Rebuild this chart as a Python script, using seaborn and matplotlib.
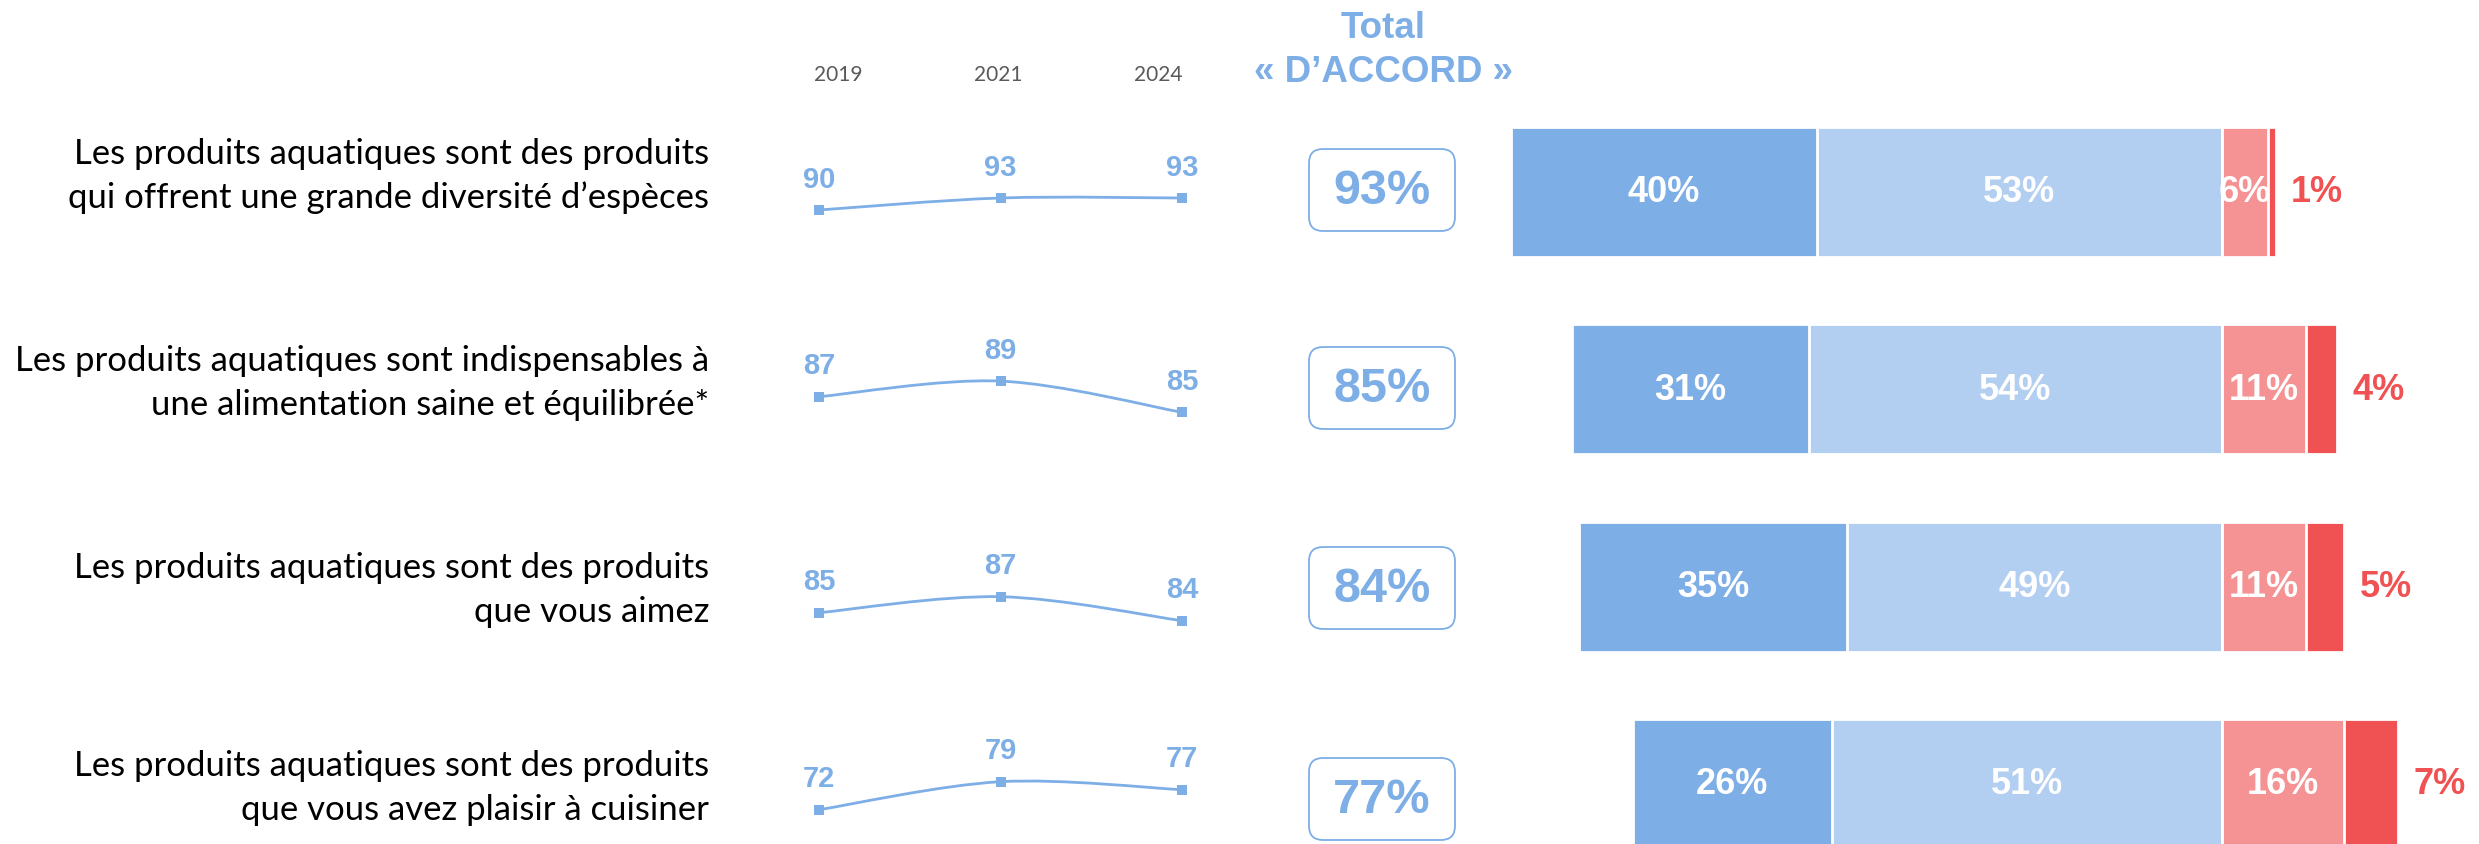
import matplotlib
matplotlib.use("Agg")
import matplotlib.pyplot as plt
import seaborn as sns
import pandas as pd
from matplotlib.patches import FancyBboxPatch, PathPatch
from matplotlib.path import Path

# ---------------- data ----------------
items = [
    "Les produits aquatiques sont des produits\nqui offrent une grande diversité d’espèces",
    "Les produits aquatiques sont indispensables à\nune alimentation saine et équilibrée*",
    "Les produits aquatiques sont des produits\nque vous aimez",
    "Les produits aquatiques sont des produits\nque vous avez plaisir à cuisiner",
]
years = ["2019", "2021", "2024"]
trend_2019 = [90, 87, 85, 72]
trend_2021 = [93, 89, 87, 79]
trend_2024 = [93, 85, 84, 77]
total_accord = [93, 85, 84, 77]
tout_a_fait = [40, 31, 35, 26]
plutot_oui = [53, 54, 49, 51]
plutot_non = [6, 11, 11, 16]
pas_du_tout = [1, 4, 5, 7]
header_lines = ["Total", "« D’ACCORD »"]

# ---------------- style ----------------
C_DARK_BLUE = "#7DAEE6"
C_LIGHT_BLUE = "#B2CEF1"
C_LIGHT_RED = "#F59293"
C_RED = "#F05152"
C_TEXT_BLUE = "#7DAEE6"
C_GREY = "#595959"

W, H, DPI = 2479, 845, 100
sns.set_theme(style="white")
plt.rcParams["font.family"] = ["Liberation Sans", "DejaVu Sans"]

fig = plt.figure(figsize=(W / DPI, H / DPI), dpi=DPI)
fig.patch.set_facecolor("white")


def px_axes(x0, y0, x1, y1):
    return fig.add_axes([x0 / W, 1 - y1 / H, (x1 - x0) / W, (y1 - y0) / H])


# overlay axes in pixel coordinates (for texts and boxes)
ax_o = px_axes(0, 0, W, H)
ax_o.set_xlim(0, W)
ax_o.set_ylim(H, 0)
ax_o.axis("off")

# ---------------- diverging stacked bars ----------------
df = pd.DataFrame({
    "item": items,
    "tout": tout_a_fait,
    "oui": plutot_oui,
    "non": plutot_non,
    "pas": pas_du_tout,
})
df["agree_all"] = -(df["tout"] + df["oui"])
df["agree_oui"] = -df["oui"]
df["dis_all"] = df["non"] + df["pas"]
df["dis_non"] = df["non"]

row0, row_step = 193, 197.3
center_px, px_per_pct = 2222, 7.65
bx0, bx1 = 1440, W
ax_b = px_axes(bx0, 0, bx1, H)
bar_w = 130 / row_step
for col, colr in [("agree_all", C_DARK_BLUE), ("agree_oui", C_LIGHT_BLUE),
                  ("dis_all", C_RED), ("dis_non", C_LIGHT_RED)]:
    sns.barplot(data=df, x=col, y="item", order=items, orient="h", color=colr,
                saturation=1, width=bar_w, edgecolor="white", linewidth=2,
                errorbar=None, ax=ax_b)
ax_b.set_xlim(-(center_px - bx0) / px_per_pct, (bx1 - center_px) / px_per_pct)
ax_b.set_ylim((H - row0) / row_step, -row0 / row_step)
ax_b.axis("off")

lab_kw = dict(ha="center", va="center", fontsize=26, fontweight="bold")
for i in range(len(items)):
    a, b, c, d = tout_a_fait[i], plutot_oui[i], plutot_non[i], pas_du_tout[i]
    ax_b.text(-(b + a / 2), i, f"{a}%", color="white", **lab_kw)
    ax_b.text(-b / 2, i, f"{b}%", color="white", **lab_kw)
    ax_b.text(c / 2, i, f"{c}%", color="white", **lab_kw)
    ax_b.annotate(f"{d}%", (c + d, i), xytext=(11, 0), textcoords="offset points",
                  ha="left", va="center", fontsize=26, fontweight="bold", color=C_RED)

# ---------------- trend mini line charts ----------------
trend = list(zip(trend_2019, trend_2021, trend_2024))
row_centers = [193, 390, 587, 785]
px_unit = [4, 7.8, 8, 4]
anchor_px = [211, 397.7, 613.7, 810.7]
lx0, lx1 = 760, 1240
pt_x0, pt_step = 819, 181.5
for r, vals in enumerate(trend):
    top, bot = row_centers[r] - 98, row_centers[r] + 98
    axl = px_axes(lx0, top, lx1, bot)
    v0 = vals[0]
    axl.set_ylim(v0 - (bot - anchor_px[r]) / px_unit[r], v0 + (anchor_px[r] - top) / px_unit[r])
    axl.set_xlim((lx0 - pt_x0) / pt_step, 2 + (lx1 - (pt_x0 + 2 * pt_step)) / pt_step)
    axl.axis("off")
    xs = list(range(len(vals)))
    # smooth curve (Catmull-Rom as cubic Bezier) through the data points
    verts = [(xs[0], vals[0])]
    codes = [Path.MOVETO]
    n = len(vals)
    for k in range(n - 1):
        p0 = (xs[max(k - 1, 0)], vals[max(k - 1, 0)])
        p1 = (xs[k], vals[k])
        p2 = (xs[k + 1], vals[k + 1])
        p3 = (xs[min(k + 2, n - 1)], vals[min(k + 2, n - 1)])
        c1 = (p1[0] + (p2[0] - p0[0]) / 6, p1[1] + (p2[1] - p0[1]) / 6)
        c2 = (p2[0] - (p3[0] - p1[0]) / 6, p2[1] - (p3[1] - p1[1]) / 6)
        verts += [c1, c2, p2]
        codes += [Path.CURVE4] * 3
    axl.add_patch(PathPatch(Path(verts, codes), fc="none", ec=C_DARK_BLUE, lw=2.0))
    sns.scatterplot(x=xs, y=list(vals), marker="s", s=42, color=C_DARK_BLUE,
                    linewidth=0, ax=axl, zorder=3)
    for xk, v in zip(xs, vals):
        axl.annotate(str(v), (xk, v), xytext=(0, 22.5), textcoords="offset points",
                     ha="center", va="center", fontsize=21, fontweight="bold",
                     color=C_TEXT_BLUE, annotation_clip=False)

# year headers
for k, y in enumerate(years):
    ax_o.text(838 + 160 * k, 75, y, ha="center", va="center", fontsize=15,
              color=C_GREY, family=["Lato", "DejaVu Sans"])

# ---------------- Total d'accord column ----------------
ax_o.text(1383, 28, header_lines[0], ha="center", va="center", fontsize=26.5,
          fontweight="bold", color=C_TEXT_BLUE)
ax_o.text(1383, 72, header_lines[1], ha="center", va="center", fontsize=26.5,
          fontweight="bold", color=C_TEXT_BLUE)
box_centers = [191, 389, 589, 800]
for cy, tot in zip(box_centers, total_accord):
    ax_o.add_patch(FancyBboxPatch((1309, cy - 41), 146, 82,
                                  boxstyle="round,pad=0,rounding_size=14",
                                  fc="white", ec=C_DARK_BLUE, lw=1.3))
    ax_o.text(1382, cy + 1, f"{tot}%", ha="center", va="center", fontsize=35,
              fontweight="bold", color=C_TEXT_BLUE)

# ---------------- item labels ----------------
renderer = fig.canvas.get_renderer()
probe = ax_o.text(0, 0, items[0].split("\n")[0], fontsize=22, family=["Lato", "DejaVu Sans"])
wpx = probe.get_window_extent(renderer=renderer).width
probe.remove()
label_fs = 22 * 633 / wpx
label_centers = [176, 383, 590, 788]
for cy, it in zip(label_centers, items):
    ax_o.text(709, cy, it, ha="right", va="center", fontsize=label_fs,
              family=["Lato", "DejaVu Sans"], color="black", linespacing=1.45)

fig.savefig("out.png", dpi=DPI)
